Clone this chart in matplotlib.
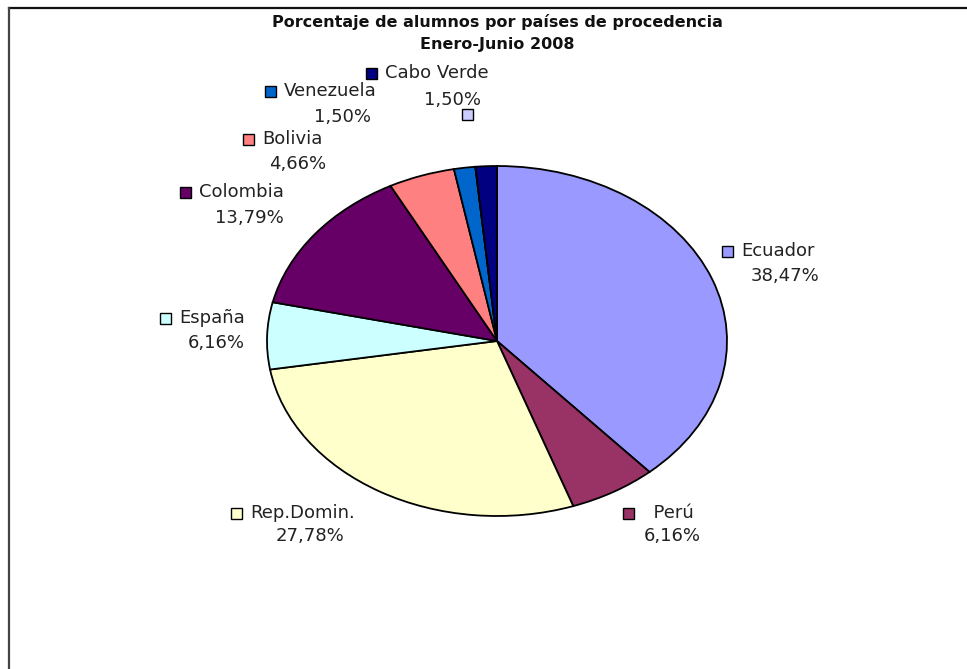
import matplotlib
matplotlib.use("Agg")
import matplotlib.pyplot as plt
from matplotlib.patches import Rectangle
from matplotlib.lines import Line2D

plt.rcParams["font.family"] = ["DejaVu Sans"]

# ---- data ----
countries = ["Ecuador", "Perú", "Rep.Domin.", "España", "Colombia", "Bolivia",
             "Venezuela", "", "Cabo Verde"]
percentages = [38.47, 6.16, 27.78, 6.16, 13.79, 4.66, 1.50, 0.0, 1.50]
colors = ["#9999FF", "#993366", "#FFFFCC", "#CCFFFF", "#660066", "#FF8080",
          "#0066CC", "#CCCCFF", "#000080"]
title_lines = ["Porcentaje de alumnos por países de procedencia", "Enero-Junio 2008"]

# ---- layout (pixel positions of label blocks: marker centre, pct centre) ----
W, H = 967, 669
label_layout = {
    "Ecuador":    ((727, 251), (785, 276)),
    "Perú":       ((628, 513), (672, 536)),
    "Rep.Domin.": ((236, 513), (310, 536)),
    "España":     ((165, 318), (216, 343)),
    "Colombia":   ((185, 192), (249, 218)),
    "Bolivia":    ((248, 139), (298, 164)),
    "Venezuela":  ((270, 91), (342, 117)),
    "":           ((467, 114), None),
    "Cabo Verde": ((371, 73), (453, 100)),
}
name_prefix = {"Perú": "  "}

fig = plt.figure(figsize=(W / 100, H / 100), dpi=100)
fig.patch.set_facecolor("white")

# pie axes (elliptical pie)
left, right, top, bottom = 267, 727, 166, 516
pax = fig.add_axes([left / W, (H - bottom) / H, (right - left) / W, (bottom - top) / H])
pax.pie(percentages, colors=colors, startangle=90, counterclock=False,
        wedgeprops=dict(edgecolor="black", linewidth=1.3), normalize=True)
pax.set_aspect("auto")
pax.set_xlim(-1.0, 1.0)
pax.set_ylim(-1.0, 1.0)
pax.axis("off")

# overlay axes in pixel coordinates
ov = fig.add_axes([0, 0, 1, 1])
ov.set_xlim(0, W)
ov.set_ylim(H, 0)
ov.axis("off")
ov.patch.set_alpha(0)

# frame lines
ov.add_line(Line2D([9, W], [8, 8], color="#111111", lw=1.6))
ov.add_line(Line2D([9, 9], [8, H], color="#444444", lw=1.6))

# title
ov.text(497, 22, title_lines[0], ha="center", va="center", fontsize=11.5,
        fontweight="bold", color="#111111")
ov.text(497, 45, title_lines[1], ha="center", va="center", fontsize=11.5,
        fontweight="bold", color="#111111")

fs = 13
for name, pct, col in zip(countries, percentages, colors):
    (mx, my), pc = label_layout[name]
    ov.add_patch(Rectangle((mx - 5.5, my - 5.5), 11, 11, facecolor=col,
                           edgecolor="black", lw=1.0))
    if name:
        ov.text(mx + 14, my, name_prefix.get(name, "") + name, ha="left",
                va="center", fontsize=fs, color="#222222")
    if pc is not None:
        ov.text(pc[0], pc[1], f"{pct:.2f}".replace(".", ",") + "%", ha="center",
                va="center", fontsize=fs, color="#222222")

fig.savefig("out.png", dpi=100)
